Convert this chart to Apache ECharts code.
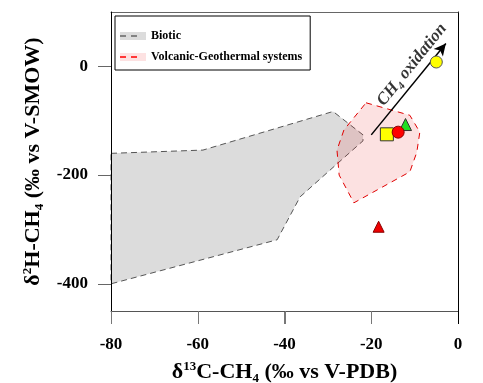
<!DOCTYPE html>
<html>
<head>
<meta charset="utf-8">
<script src="https://cdn.jsdelivr.net/npm/echarts@6/dist/echarts.min.js"></script>
<style>html,body{margin:0;padding:0;background:#fff}#c{width:483px;height:383px}</style>
</head>
<body>
<div id="c"></div>
<script>
// ---- data ----
const xTicks = [-80, -60, -40, -20, 0];
const yTicks = [-400, -200, 0];
const xRange = [-80, 0];
const yRange = [-450, 100];
const bioticX = [-80, -58.8, -28.8, -21.9, -21.9, -27.7, -36.4, -41.7, -80];
const bioticY = [-160, -154, -83, -126, -137, -178, -240, -319, -400];
const volcX = [-21.2, -11.1, -8.8, -9.5, -11.1, -24.0, -27.4, -27.9, -26.3];
const volcY = [-67, -90, -121, -158, -194, -251, -200, -154, -117];
const yellowCircle = [[-5, 8]];
const yellowSquare = [[-16.4, -125]];
const redCircle = [[-13.8, -121]];
const greenTriangle = [[-12.1, -107]];
const redTriangle = [[-18.3, -295]];
const arrowFrom = [-20, -126];
const arrowTo = [-2.8, 42];
const arrowTextAt = [[-10.6, 3]];
const legendNames = ['Biotic', 'Volcanic-Geothermal systems'];

const FONT = 'Liberation Serif';
const chart = echarts.init(document.getElementById('c'));

function polygonSeries(name, xs, ys, fill, stroke, dash, z) {
  return {
    type: 'custom', name: name, z: z,
    data: xs.map((x, i) => [x, ys[i]]),
    encode: {x: 0, y: 1},
    silent: true,
    itemStyle: {color: fill},
    renderItem: function (params, api) {
      if (params.dataIndex !== 0) return null;
      const pts = xs.map((x, i) => api.coord([x, ys[i]]));
      return {
        type: 'polygon',
        shape: {points: pts},
        style: {fill: fill, stroke: stroke, lineWidth: 1, lineDash: dash}
      };
    }
  };
}

function pointSeries(data, symbol, size, fill, border) {
  return {
    type: 'scatter', data: data, symbol: symbol, symbolSize: size, z: 5,
    silent: true,
    itemStyle: {color: fill, borderColor: border, borderWidth: 1, opacity: 1}
  };
}

// left / bottom axis lines and their outward ticks, placed through the axis scales
const axisLinesSeries = {
  type: 'custom', z: 3, silent: true, clip: false,
  data: [[xRange[0], yRange[0]]],
  encode: {x: 0, y: 1},
  renderItem: function (params, api) {
    const TL = 13;
    const children = [];
    const p0 = api.coord([xRange[0], yRange[0]]);
    const pTop = api.coord([xRange[0], yRange[1]]);
    const pRight = api.coord([xRange[1], yRange[0]]);
    children.push({type: 'line', shape: {x1: p0[0] + 0.5, y1: pTop[1], x2: p0[0] + 0.5, y2: p0[1] + TL},
      style: {stroke: '#000', lineWidth: 1}});
    children.push({type: 'line', shape: {x1: p0[0], y1: p0[1] + 0.5, x2: pRight[0] + 1, y2: p0[1] + 0.5},
      style: {stroke: '#555', lineWidth: 1}});
    xTicks.forEach(function (v) {
      const p = api.coord([v, yRange[0]]);
      children.push({type: 'line', shape: {x1: Math.round(p[0]) + 0.5, y1: p[1], x2: Math.round(p[0]) + 0.5, y2: p[1] + TL},
        style: {stroke: v === xRange[1] ? '#000' : '#777', lineWidth: 1}});
    });
    yTicks.forEach(function (v) {
      const p = api.coord([xRange[0], v]);
      children.push({type: 'line', shape: {x1: p[0] - TL, y1: Math.round(p[1]) + 0.5, x2: p[0], y2: Math.round(p[1]) + 0.5},
        style: {stroke: '#666', lineWidth: 1}});
    });
    return {type: 'group', children: children};
  }
};

const legendCommon = {
  orient: 'vertical', left: 115, top: 16,
  padding: [13, 8, 6, 5], itemGap: 7, itemWidth: 26,
  selectedMode: false,
  textStyle: {fontFamily: FONT, fontWeight: 'bold', fontSize: 12, lineHeight: 14, color: '#000'}
};

const richName = {
  sup: {fontFamily: FONT, fontWeight: 'bold', fontSize: 13, lineHeight: 13, verticalAlign: 'top', color: '#000'},
  sub: {fontFamily: FONT, fontWeight: 'bold', fontSize: 13, lineHeight: 13, verticalAlign: 'bottom', color: '#000'}
};

const frameAxis = {
  show: true,
  axisLine: {show: true, onZero: false, lineStyle: {color: '#666'}},
  axisTick: {show: false}, axisLabel: {show: false}, splitLine: {show: false}
};

const option = {
  animation: false,
  grid: {left: 111, right: 25, top: 12, bottom: 72, outerBoundsMode: 'none'},
  legend: [
    Object.assign({}, legendCommon, {
      z: 10,
      backgroundColor: '#fff', borderColor: '#000', borderWidth: 1,
      itemHeight: 8, icon: 'rect',
      data: [
        {name: legendNames[0], itemStyle: {color: '#dcdcdc', borderWidth: 0}},
        {name: legendNames[1], itemStyle: {color: '#fde2e2', borderWidth: 0}}
      ]
    }),
    Object.assign({}, legendCommon, {
      z: 11,
      itemHeight: 1.5,
      icon: 'path://M0,0h6v1.5h-6z M11,0h6v1.5h-6z',
      itemWidth: 17,
      textStyle: Object.assign({}, legendCommon.textStyle, {color: 'rgba(0,0,0,0)'}),
      data: [
        {name: legendNames[0], itemStyle: {color: '#666', borderWidth: 0}},
        {name: legendNames[1], itemStyle: {color: '#ff0000', borderWidth: 0}}
      ]
    })
  ],
  xAxis: [{
    type: 'value', min: xRange[0], max: xRange[1], interval: 20,
    splitLine: {show: false},
    axisLine: {show: true, onZero: false, lineStyle: {color: '#555'}},
    axisTick: {show: true, length: 13, lineStyle: {color: '#777'}},
    axisLabel: {margin: 25, fontFamily: FONT, fontWeight: 'bold', fontSize: 17, color: '#000'},
    name: 'δ{sup|13}C-CH{sub|4} (‰ vs V-PDB)',
    nameLocation: 'middle', nameGap: 49,
    nameTextStyle: {fontFamily: FONT, fontWeight: 'bold', fontSize: 22, color: '#000', lineHeight: 25, rich: richName}
  },
  Object.assign({type: 'value', position: 'top', min: xRange[0], max: xRange[1]}, frameAxis)],
  yAxis: [{
    type: 'value', min: yRange[0], max: yRange[1],
    splitLine: {show: false},
    axisLine: {show: true, onZero: false, lineStyle: {color: '#000'}},
    axisTick: {show: true, length: 13, lineStyle: {color: '#666'}, customValues: yTicks},
    axisLabel: {customValues: yTicks, margin: 23, fontFamily: FONT, fontWeight: 'bold', fontSize: 17, color: '#000'},
    name: 'δ{sup|2}H-CH{sub|4} (‰ vs V-SMOW)',
    nameLocation: 'middle', nameGap: 55, nameRotate: 90,
    nameTextStyle: {fontFamily: FONT, fontWeight: 'bold', fontSize: 22, color: '#000', lineHeight: 25, rich: richName}
  },
  Object.assign({type: 'value', position: 'right', min: yRange[0], max: yRange[1]}, frameAxis, {
    axisLine: {show: true, onZero: false, lineStyle: {color: '#000'}}
  })],
  series: [
    polygonSeries(legendNames[0], bioticX, bioticY, '#dcdcdc', '#555', [6, 4], 1),
    polygonSeries(legendNames[1], volcX, volcY, 'rgba(235,40,40,0.14)', '#e00000', [6, 5], 2),
    axisLinesSeries,
    {
      type: 'scatter', data: arrowTextAt, symbolSize: 0, z: 6, silent: true,
      label: {
        show: true, position: 'inside', rotate: 51, align: 'center', verticalAlign: 'middle',
        formatter: 'CH{sub|4} oxidation',
        fontFamily: FONT, fontWeight: 'bold', fontStyle: 'italic', fontSize: 17, lineHeight: 22, color: '#000',
        rich: {sub: {fontFamily: FONT, fontWeight: 'bold', fontStyle: 'italic', fontSize: 11, lineHeight: 11, verticalAlign: 'bottom', color: '#000'}}
      },
      markLine: {
        silent: true, symbol: ['none', 'arrow'], symbolSize: [9, 12],
        lineStyle: {color: '#000', width: 1.5, type: 'solid'},
        label: {show: false},
        data: [[{coord: arrowFrom}, {coord: arrowTo}]]
      }
    },
    pointSeries(yellowSquare, 'rect', 13, '#ffff00', '#333'),
    pointSeries(greenTriangle, 'triangle', 12, '#22dd22', '#333'),
    pointSeries(redCircle, 'circle', 12, '#ff0000', '#880000'),
    pointSeries(redTriangle, 'triangle', 11, '#ee0000', '#880000'),
    pointSeries(yellowCircle, 'circle', 12, '#ffff00', '#555')
  ]
};
chart.setOption(option);
</script>
</body>
</html>
